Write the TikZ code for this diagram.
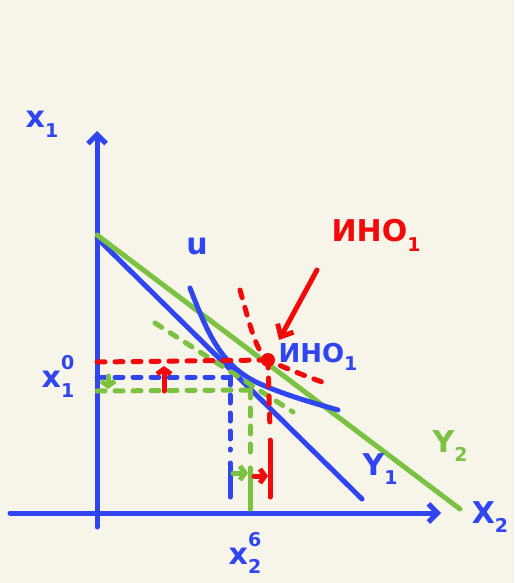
\documentclass[tikz,border=0pt]{standalone}
\usepackage{fontspec}
\setmainfont{DejaVu Sans}
\usetikzlibrary{arrows.meta}
\definecolor{bg}{HTML}{F7F4EA}
\definecolor{pblue}{HTML}{2E45F0}
\definecolor{pgreen}{HTML}{7CC242}
\definecolor{pred}{HTML}{F20A0A}
\newcommand\subsup[3]{#1\rlap{\raisebox{-0.6ex}{\fontsize{19}{19}\selectfont #2}}\raisebox{1.1ex}{\fontsize{19}{19}\selectfont #3}}
\newcommand\sbs[2]{#1\raisebox{-0.6ex}{\fontsize{19}{19}\selectfont #2}}
\begin{document}
\begin{tikzpicture}[x=1pt,y=-1pt, line cap=round, line join=round,
  ink/.style={line width=5pt},
  dsh/.style={ink, dash pattern=on 8pt off 10pt},
  lbl/.style={font=\fontsize{30}{30}\selectfont\bfseries, inner sep=0pt},
  lbls/.style={font=\fontsize{26}{26}\selectfont\bfseries, inner sep=0pt},
  axtip/.style={-{Straight Barb[length=9pt,width=18pt]}},
  smalltip/.style={-{Straight Barb[length=5pt,width=14pt]}},
  bigtip/.style={-{Straight Barb[length=10pt,width=18pt]}}
]
\fill[bg] (0,0) rectangle (514,583);
\useasboundingbox (0,0) rectangle (514,583);

% key points
\coordinate (Ybot) at (97,527);
\coordinate (Ytip) at (97,131);
\coordinate (Xl) at (10,513);
\coordinate (Xtip) at (441,513);
\coordinate (B1a) at (97,238);
\coordinate (B1b) at (362,499);
\coordinate (B2a) at (97,235);
\coordinate (B2b) at (460,509);
\coordinate (R) at (268,360);
\coordinate (Bp) at (230,377);
\coordinate (Gp) at (250,390);
\coordinate (Rl) at (97,362);
\coordinate (Bl) at (97,377);
\coordinate (Gl) at (97,391);
\coordinate (Rd) at (270,497);
\coordinate (Bd) at (230,497);
\coordinate (Gd) at (250,509);

% axes
\draw[ink, pblue, axtip] (Ybot) -- (Ytip);
\draw[ink, pblue, axtip] (Xl) -- (Xtip);

% budget lines
\draw[ink, pblue] (B1a) -- (B1b);
\draw[ink, pgreen] (B2a) -- (B2b);

% indifference curve u
\draw[ink, pblue] (190,288) .. controls (208,335) and (222,366) .. (258,383) .. controls (285,395) and (310,402) .. (338,410);

% green dashed line
\draw[dsh, pgreen] (155,323) -- (293,412);

% red dashed curve
\draw[dsh, pred] (240,290) .. controls (250,325) and (256,352) .. (R) .. controls (285,368) and (305,376) .. (325,383);

% dashed guides
\draw[dsh, pred] (Rl) -- (R);
\draw[dsh, pblue] (Bl) -- (Bp);
\draw[dsh, pgreen] (Gl) -- (Gp);
\draw[dsh, pred] (R) -- (270,430);
\draw[ink, pred] (270,440) -- (Rd);
\draw[dsh, pblue] (Bp) -- (230,450);
\draw[ink, pblue] (230,463) -- (Bd);
\draw[dsh, pgreen] (Gp) -- (250,460);
\draw[ink, pgreen] (250,468) -- (Gd);

% point
\fill[pred] (R) circle (7pt);

% small shift arrows
\draw[ink, pgreen, smalltip] (108,376) -- (108,389);
\draw[ink, pred, smalltip] (164,391) -- (164,366);
\draw[ink, pgreen, smalltip] (233,473) -- (248,473);
\draw[ink, pred, smalltip] (254,476) -- (268,476);

% big arrow
\coordinate (Atail) at (317,270);
\coordinate (Ahead) at (279,340);
\draw[ink, pred, bigtip] (Atail) -- (Ahead);

% labels
\node[lbl, pblue] (lx1) at (42,124) {\sbs{x}{1}};
\node[lbl, pblue] (lu) at (197,247) {u};
\node[lbl, pred] (lino) at (376,235) {\sbs{ИНО}{1}};
\node[lbls, pblue] (linob) at (318,357) {\sbs{ИНО}{1}};
\node[lbl, pblue] (lx10) at (58,376) {\subsup{x}{1}{0}};
\node[lbl, pblue] (lx26) at (245,553) {\subsup{x}{2}{6}};
\node[lbl, pblue] (ly1) at (380,469) {\sbs{Y}{1}};
\node[lbl, pgreen] (ly2) at (450,446) {\sbs{Y}{2}};
\node[lbl, pblue] (lX2) at (490,517) {\sbs{X}{2}};
\end{tikzpicture}
\end{document}
